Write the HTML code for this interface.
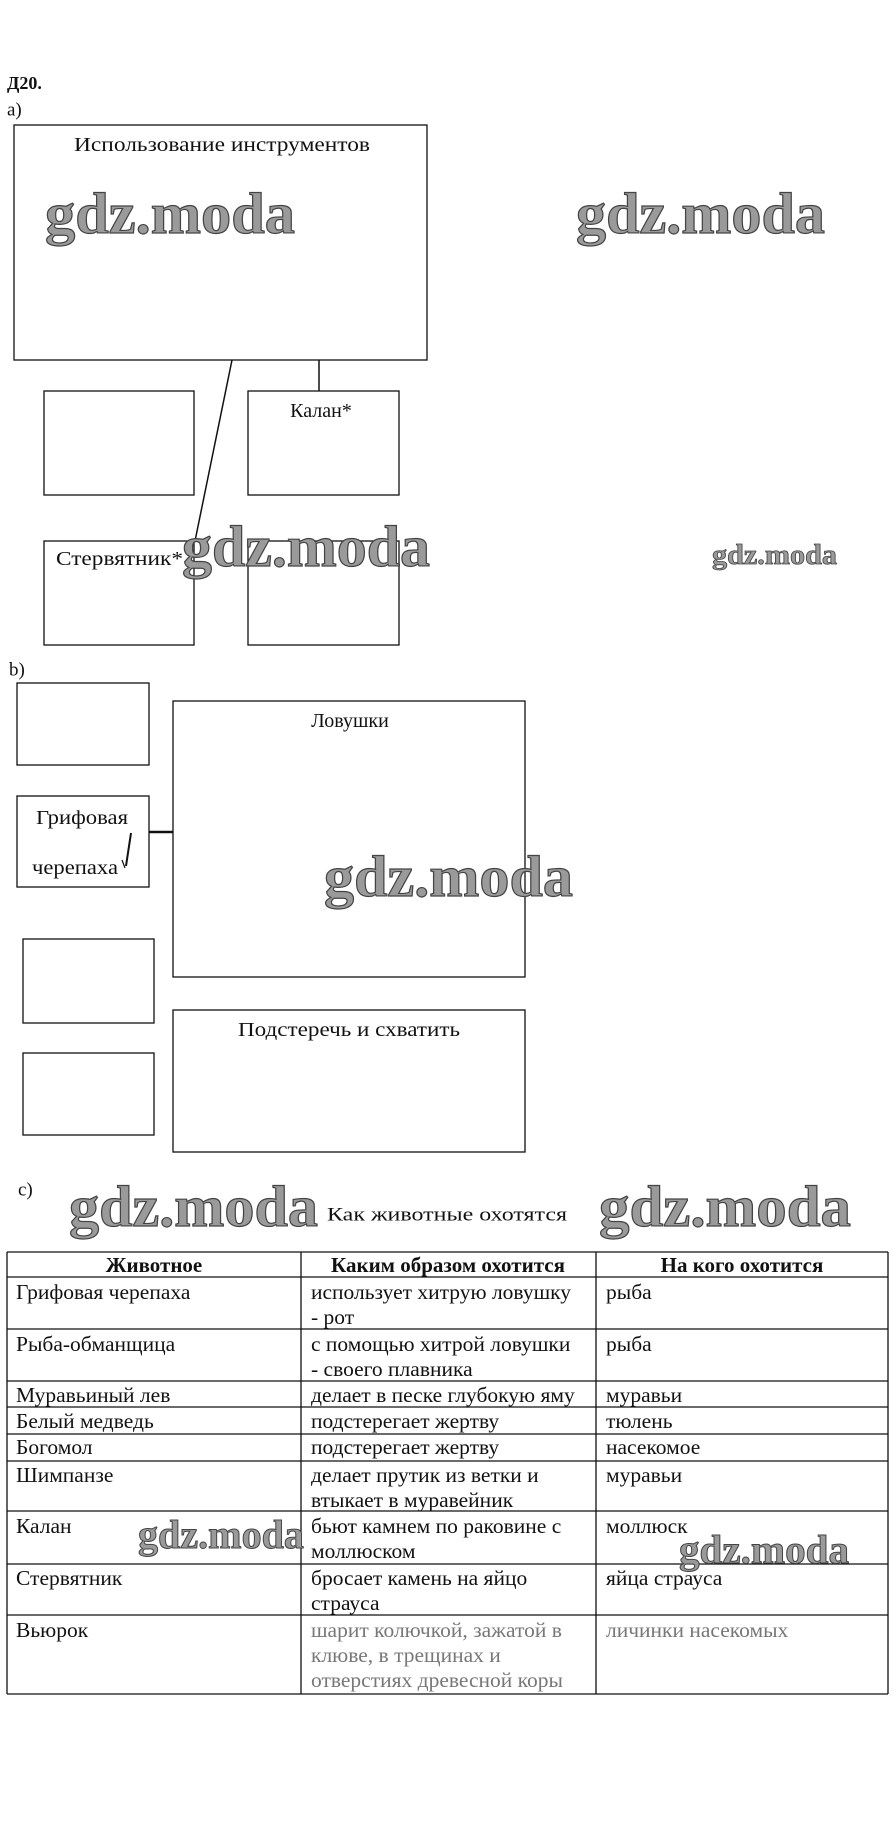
<!DOCTYPE html>
<html><head><meta charset="utf-8"><style>
html,body{margin:0;padding:0;background:#fff;}
svg{display:block;}
text{font-family:"Liberation Serif",serif;fill:#111;}
.wm{font-family:"Liberation Serif",serif;font-weight:bold;fill:#9a9a9a;stroke:#444;stroke-width:1.2px;}
.b{fill:none;stroke:#111;stroke-width:1.3;}
</style></head><body>
<svg width="894" height="1834" viewBox="0 0 894 1834" xmlns="http://www.w3.org/2000/svg">
<rect width="894" height="1834" fill="#fff"/>
<text x="7" y="83" font-size="18" font-weight="bold" dominant-baseline="central">Д20.</text>
<text x="7" y="110" font-size="19" dominant-baseline="central">а)</text>
<rect class="b" x="14" y="125" width="413" height="235"/>
<text x="74" y="145" font-size="20" dominant-baseline="central" textLength="296" lengthAdjust="spacingAndGlyphs">Использование инструментов</text>
<line x1="232" y1="360" x2="195" y2="541" stroke="#111" stroke-width="1.5"/>
<line x1="319" y1="360" x2="319" y2="391" stroke="#111" stroke-width="1.5"/>
<rect class="b" x="44" y="391" width="150" height="104"/>
<rect class="b" x="248" y="391" width="151" height="104"/>
<text x="321" y="411" font-size="20" text-anchor="middle" dominant-baseline="central">Калан*</text>
<rect class="b" x="44" y="541" width="150" height="104"/>
<rect class="b" x="248" y="541" width="151" height="104"/>
<text x="56" y="559" font-size="20" dominant-baseline="central" textLength="127" lengthAdjust="spacingAndGlyphs">Стервятник*</text>
<text class="wm" x="45" y="233" font-size="58" textLength="250" lengthAdjust="spacingAndGlyphs">gdz.moda</text>
<text class="wm" x="576" y="233" font-size="58" textLength="249" lengthAdjust="spacingAndGlyphs">gdz.moda</text>
<text class="wm" x="182" y="566" font-size="58" textLength="248" lengthAdjust="spacingAndGlyphs">gdz.moda</text>
<text class="wm" x="712" y="564" font-size="28" textLength="125" lengthAdjust="spacingAndGlyphs" style="stroke-width:0.8px">gdz.moda</text>
<text x="9" y="670" font-size="19" dominant-baseline="central">b)</text>
<rect class="b" x="17" y="683" width="132" height="82"/>
<rect class="b" x="17" y="796" width="132" height="91"/>
<text x="36" y="818" font-size="20" dominant-baseline="central" textLength="92" lengthAdjust="spacingAndGlyphs">Грифовая</text>
<text x="32" y="868" font-size="20" dominant-baseline="central" textLength="86" lengthAdjust="spacingAndGlyphs">черепаха</text>
<line x1="131" y1="833" x2="126" y2="866" stroke="#111" stroke-width="2"/>
<line x1="122" y1="860" x2="125" y2="868" stroke="#111" stroke-width="1.2"/>
<line x1="149" y1="832" x2="173" y2="832" stroke="#111" stroke-width="2.5"/>
<rect class="b" x="173" y="701" width="352" height="276"/>
<text x="350" y="721" font-size="20" text-anchor="middle" dominant-baseline="central">Ловушки</text>
<rect class="b" x="23" y="939" width="131" height="84"/>
<rect class="b" x="23" y="1053" width="131" height="82"/>
<rect class="b" x="173" y="1010" width="352" height="142"/>
<text x="349" y="1030" font-size="20" text-anchor="middle" dominant-baseline="central" textLength="222" lengthAdjust="spacingAndGlyphs">Подстеречь и схватить</text>
<text class="wm" x="324" y="896" font-size="58" textLength="249" lengthAdjust="spacingAndGlyphs">gdz.moda</text>
<text x="18" y="1190" font-size="19" dominant-baseline="central">c)</text>
<text x="327" y="1215" font-size="19" dominant-baseline="central" textLength="240" lengthAdjust="spacingAndGlyphs">Как животные охотятся</text>
<text class="wm" x="69" y="1226" font-size="58" textLength="249" lengthAdjust="spacingAndGlyphs">gdz.moda</text>
<text class="wm" x="599" y="1226" font-size="58" textLength="252" lengthAdjust="spacingAndGlyphs">gdz.moda</text>
<g stroke="#111" stroke-width="1.3">
<line x1="7" y1="1252" x2="888" y2="1252"/>
<line x1="7" y1="1277" x2="888" y2="1277"/>
<line x1="7" y1="1329" x2="888" y2="1329"/>
<line x1="7" y1="1381" x2="888" y2="1381"/>
<line x1="7" y1="1407" x2="888" y2="1407"/>
<line x1="7" y1="1434" x2="888" y2="1434"/>
<line x1="7" y1="1461" x2="888" y2="1461"/>
<line x1="7" y1="1511" x2="888" y2="1511"/>
<line x1="7" y1="1564" x2="888" y2="1564"/>
<line x1="7" y1="1615" x2="888" y2="1615"/>
<line x1="7" y1="1694" x2="888" y2="1694"/>
<line x1="7" y1="1252" x2="7" y2="1694"/>
<line x1="301" y1="1252" x2="301" y2="1694"/>
<line x1="596" y1="1252" x2="596" y2="1694"/>
<line x1="888" y1="1252" x2="888" y2="1694"/>
</g>
<g font-size="21" font-weight="bold" text-anchor="middle" dominant-baseline="central">
<text x="154" y="1265">Животное</text>
<text x="448" y="1265">Каким образом охотится</text>
<text x="742" y="1265">На кого охотится</text>
</g>
<g font-size="21.5" dominant-baseline="central">
<text x="16" y="1292">Грифовая черепаха</text>
<text x="311" y="1292">использует хитрую ловушку</text>
<text x="311" y="1317">- рот</text>
<text x="606" y="1292">рыба</text>
<text x="16" y="1344">Рыба-обманщица</text>
<text x="311" y="1344">с помощью хитрой ловушки</text>
<text x="311" y="1369">- своего плавника</text>
<text x="606" y="1344">рыба</text>
<text x="16" y="1395">Муравьиный лев</text>
<text x="311" y="1395">делает в песке глубокую яму</text>
<text x="606" y="1395">муравьи</text>
<text x="16" y="1421">Белый медведь</text>
<text x="311" y="1421">подстерегает жертву</text>
<text x="606" y="1421">тюлень</text>
<text x="16" y="1447">Богомол</text>
<text x="311" y="1447">подстерегает жертву</text>
<text x="606" y="1447">насекомое</text>
<text x="16" y="1475">Шимпанзе</text>
<text x="311" y="1475">делает прутик из ветки и</text>
<text x="311" y="1500">втыкает в муравейник</text>
<text x="606" y="1475">муравьи</text>
<text x="16" y="1526">Калан</text>
<text x="311" y="1526">бьют камнем по раковине с</text>
<text x="311" y="1551">моллюском</text>
<text x="606" y="1526">моллюск</text>
<text x="16" y="1578">Стервятник</text>
<text x="311" y="1578">бросает камень на яйцо</text>
<text x="311" y="1603">страуса</text>
<text x="606" y="1578">яйца страуса</text>
<text x="16" y="1630">Вьюрок</text>
<text x="311" y="1630" style="fill:#777">шарит колючкой, зажатой в</text>
<text x="311" y="1655" style="fill:#777">клюве, в трещинах и</text>
<text x="311" y="1680" style="fill:#777">отверстиях древесной коры</text>
<text x="606" y="1630" style="fill:#777">личинки насекомых</text>
</g>
<text class="wm" x="138" y="1548" font-size="40" textLength="166" lengthAdjust="spacingAndGlyphs" style="stroke-width:1px">gdz.moda</text>
<text class="wm" x="679" y="1563" font-size="40" textLength="170" lengthAdjust="spacingAndGlyphs" style="stroke-width:1px">gdz.moda</text>
</svg>
</body></html>
